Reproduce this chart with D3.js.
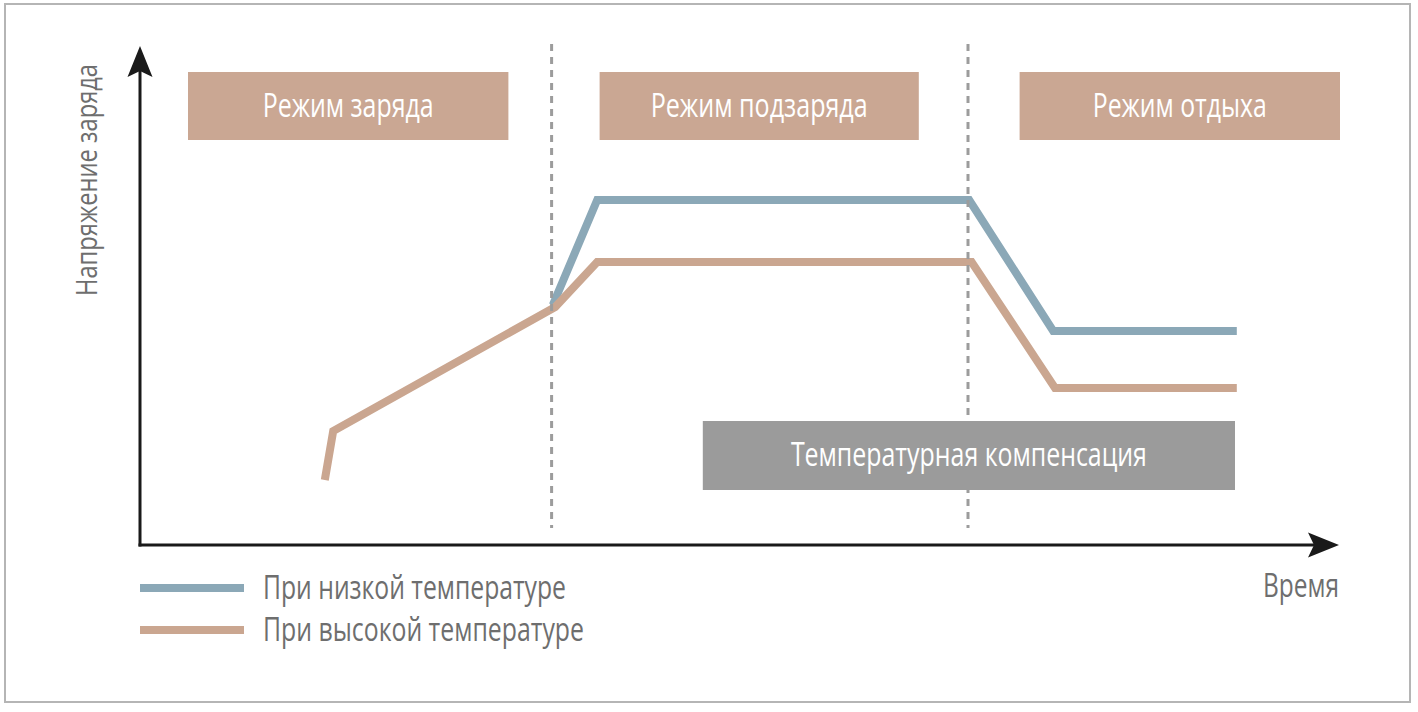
<!DOCTYPE html>
<html>
<head>
<meta charset="utf-8">
<script src="https://cdn.jsdelivr.net/npm/d3@7"></script>
<style>
  html, body { margin: 0; padding: 0; background: #fff; }
  svg { display: block; font-family: "Open Sans", "Noto Sans", sans-serif; }
</style>
</head>
<body>
<svg id="chart" width="1418" height="712"></svg>
<script>
// --- data (time and voltage in arbitrary units 0..100) ---
const phaseNames = ["Режим заряда", "Режим подзаряда", "Режим отдыха"];
const phaseStart = [4, 38.3, 73.3];
const phaseEnd = [30.7, 64.9, 100];
const phaseBounds = [34.3, 69];

const compLabel = "Температурная компенсация";
const compStart = 46.9;
const compEnd = 91.25;

const seriesNames = ["При низкой температуре", "При высокой температуре"];
const timeLow = [34.4, 38.1, 69.1, 76.1, 91.4];
const voltLow = [48, 69, 69, 42.8, 42.8];
const timeHigh = [15.4, 16.1, 34.6, 38.1, 69.3, 76.25, 91.4];
const voltHigh = [13, 22.8, 47.6, 56.6, 56.6, 31.4, 31.4];

const xLabel = "Время";
const yLabel = "Напряжение заряда";

// --- styles ---
const colorLow = "#8ba8b7";
const colorHigh = "#caa690";
const boxColor = "#caa793";
const compColor = "#9b9b9b";
const textGray = "#6e6e6e";

const svg = d3.select("#chart");

const x = d3.scaleLinear().domain([0, 100]).range([140, 1340]);
const y = d3.scaleLinear().domain([0, 100]).range([545, 45]);

// outer frame
svg.append("rect")
  .attr("x", 5).attr("y", 4)
  .attr("width", 1405).attr("height", 698)
  .attr("fill", "none")
  .attr("stroke", "#b5b5b5")
  .attr("stroke-width", 2);

// phase boxes
const boxTop = 72, boxH = 68;
const phases = phaseNames.map((n, i) => ({ name: n, s: phaseStart[i], e: phaseEnd[i] }));
const phaseLen = [171, 217, 174];

svg.selectAll("rect.phase")
  .data(phases)
  .join("rect")
  .attr("class", "phase")
  .attr("x", d => x(d.s))
  .attr("y", boxTop)
  .attr("width", d => x(d.e) - x(d.s))
  .attr("height", boxH)
  .attr("fill", boxColor);

svg.selectAll("text.phase")
  .data(phases)
  .join("text")
  .attr("class", "phase")
  .attr("x", d => (x(d.s) + x(d.e)) / 2)
  .attr("y", boxTop + boxH / 2 + 10.5)
  .attr("text-anchor", "middle")
  .attr("font-size", 33)
  .attr("fill", "#fff")
  .attr("textLength", (d, i) => phaseLen[i])
  .attr("lengthAdjust", "spacingAndGlyphs")
  .text(d => d.name);

// series lines
const line = d3.line().x(d => x(d[0])).y(d => y(d[1]));
const low = d3.zip(timeLow, voltLow);
const high = d3.zip(timeHigh, voltHigh);

svg.append("path")
  .attr("d", line(low))
  .attr("fill", "none")
  .attr("stroke", colorLow)
  .attr("stroke-width", 8);

svg.append("path")
  .attr("d", line(high))
  .attr("fill", "none")
  .attr("stroke", colorHigh)
  .attr("stroke-width", 8);

// dashed phase boundaries (over the lines, under the compensation box)
svg.selectAll("line.bound")
  .data(phaseBounds)
  .join("line")
  .attr("class", "bound")
  .attr("x1", d => x(d)).attr("x2", d => x(d))
  .attr("y1", 44).attr("y2", 528)
  .attr("stroke", "#9c9c9c")
  .attr("stroke-width", 3)
  .attr("stroke-dasharray", "7,6");

// temperature compensation box
const compTop = 421, compH = 69;
svg.append("rect")
  .attr("x", x(compStart))
  .attr("y", compTop)
  .attr("width", x(compEnd) - x(compStart))
  .attr("height", compH)
  .attr("fill", compColor);

svg.append("text")
  .attr("x", (x(compStart) + x(compEnd)) / 2)
  .attr("y", compTop + compH / 2 + 10.5)
  .attr("text-anchor", "middle")
  .attr("font-size", 33)
  .attr("fill", "#fff")
  .attr("textLength", 356)
  .attr("lengthAdjust", "spacingAndGlyphs")
  .text(compLabel);

// axes with arrows
const axisColor = "#1a1a1a";
svg.append("line")
  .attr("x1", x(0)).attr("x2", x(0))
  .attr("y1", y(0) + 1.5).attr("y2", y(100) + 20)
  .attr("stroke", axisColor).attr("stroke-width", 3);
svg.append("line")
  .attr("x1", x(0) - 1.5).attr("x2", x(100) - 20)
  .attr("y1", y(0)).attr("y2", y(0))
  .attr("stroke", axisColor).attr("stroke-width", 3);

const arrow = "M0,0 L-31,-12.5 L-25,0 L-31,12.5 Z";
svg.append("path")
  .attr("d", arrow)
  .attr("fill", axisColor)
  .attr("transform", `translate(${x(100) - 1},${y(0)})`);
svg.append("path")
  .attr("d", arrow)
  .attr("fill", axisColor)
  .attr("transform", `translate(${x(0)},${y(100) + 1}) rotate(-90)`);

// axis labels
svg.append("text")
  .attr("x", 1339).attr("y", 597)
  .attr("text-anchor", "end")
  .attr("font-size", 32)
  .attr("fill", textGray)
  .attr("textLength", 76)
  .attr("lengthAdjust", "spacingAndGlyphs")
  .text(xLabel);

svg.append("text")
  .attr("transform", "translate(97,180) rotate(-90)")
  .attr("text-anchor", "middle")
  .attr("font-size", 30)
  .attr("fill", textGray)
  .attr("textLength", 232)
  .attr("lengthAdjust", "spacingAndGlyphs")
  .text(yLabel);

// legend
const legend = [
  { name: seriesNames[0], color: colorLow, len: 303 },
  { name: seriesNames[1], color: colorHigh, len: 321 }
];
const lg = svg.selectAll("g.legend")
  .data(legend)
  .join("g")
  .attr("class", "legend")
  .attr("transform", (d, i) => `translate(140,${588 + i * 42})`);

lg.append("line")
  .attr("x1", 0).attr("x2", 104)
  .attr("stroke", d => d.color)
  .attr("stroke-width", 8);

lg.append("text")
  .attr("x", 123).attr("y", 11)
  .attr("font-size", 32)
  .attr("fill", textGray)
  .attr("textLength", d => d.len)
  .attr("lengthAdjust", "spacingAndGlyphs")
  .text(d => d.name);
</script>
</body>
</html>
